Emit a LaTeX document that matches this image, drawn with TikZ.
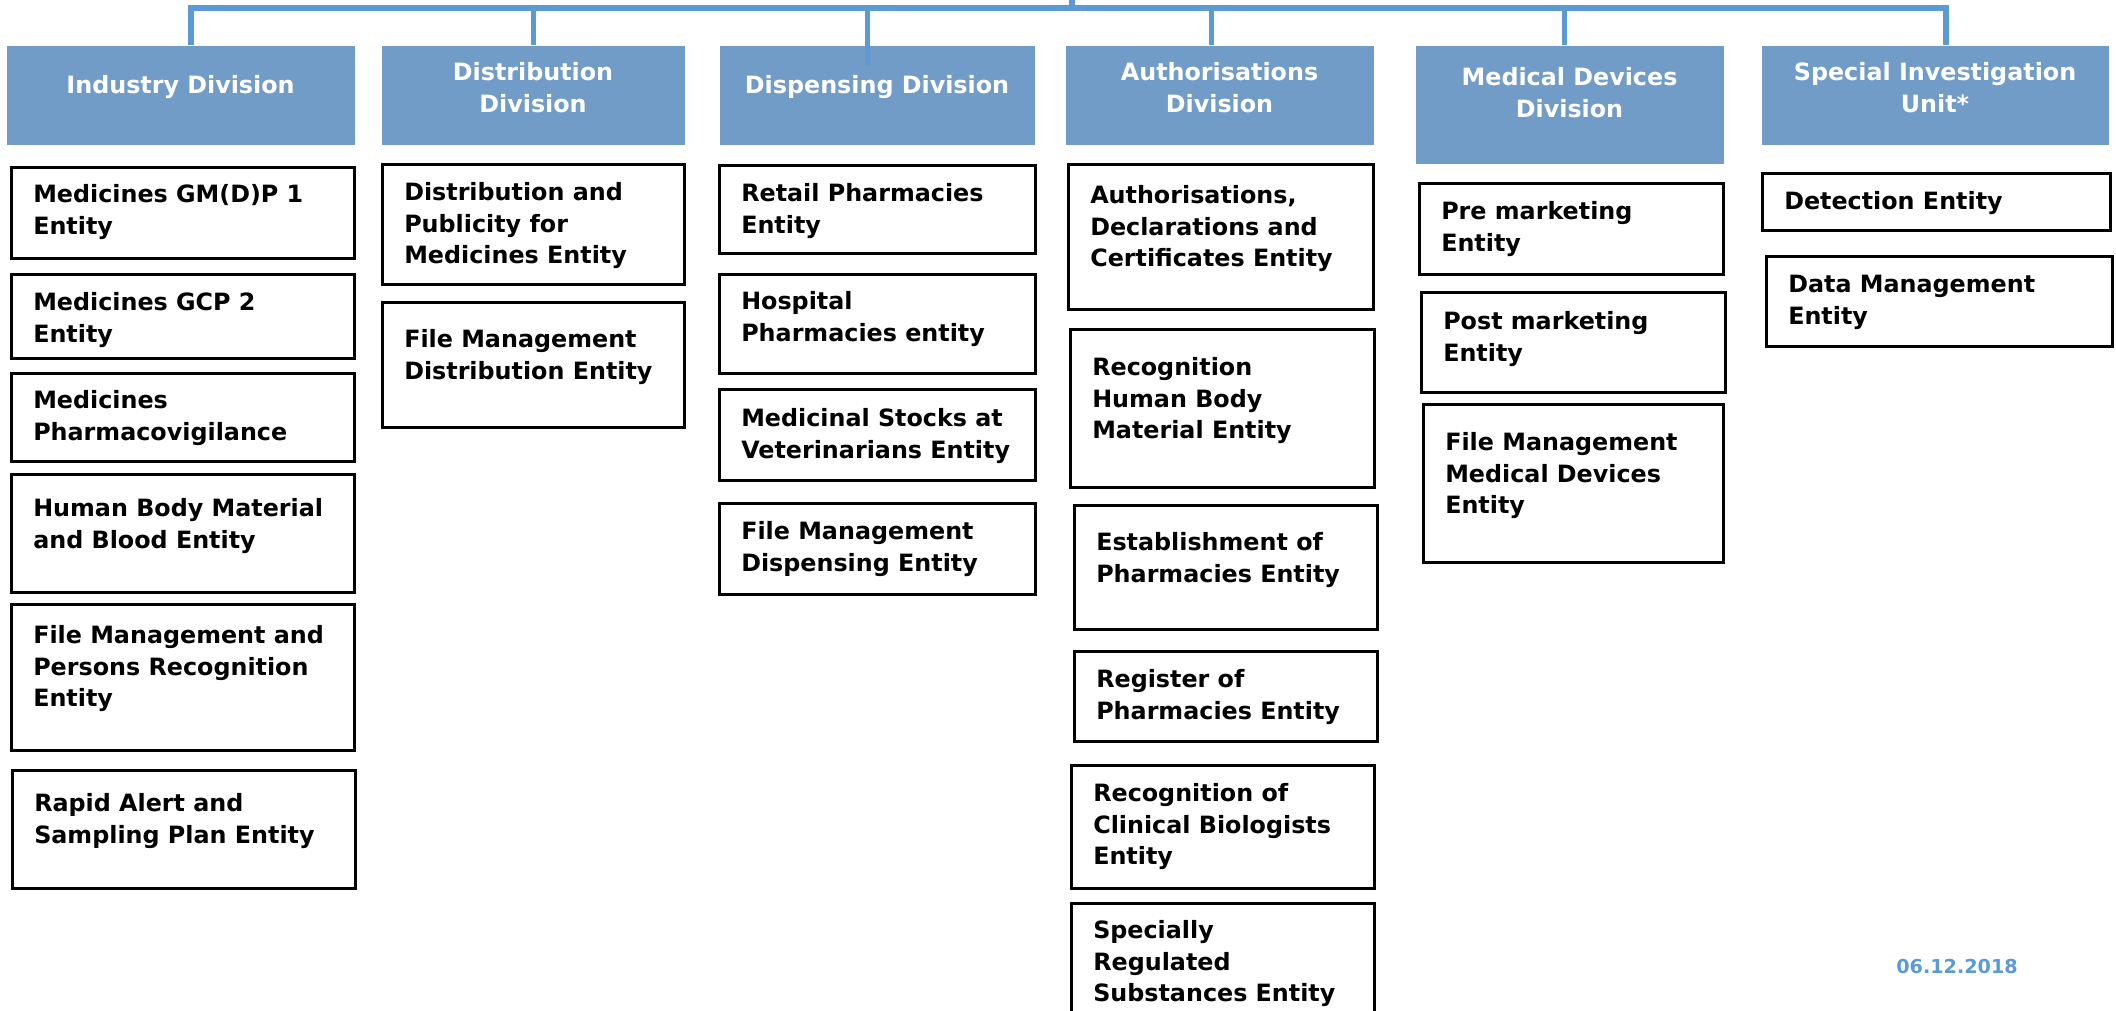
\documentclass[tikz,border=0pt]{standalone}
\usepackage{fontspec}
\setmainfont{DejaVu Sans}
\usepackage{tikz}
\usetikzlibrary{positioning,calc}

\definecolor{divblue}{RGB}{114,156,200}
\definecolor{barblue}{RGB}{91,155,213}
\definecolor{dateblue}{RGB}{91,155,213}

% one pixel of the chart
\newlength\px
\setlength\px{0.375pt}

% #1 width, #2 height, #3 space above the text, #4 text
\newcommand{\divtext}[4]{\parbox[c][#2\px][t]{#1\px}{\centering\vspace*{#3\px}#4}}
\newcommand{\enttext}[4]{\parbox[c][#2\px][t]{#1\px}{\raggedright\leftskip=22\px\relax\vspace*{#3\px}#4}}

\tikzset{
    division/.style={fill=divblue, text=white, inner sep=0pt, anchor=north west,
        font=\fontsize{8.93}{11.9}\selectfont\bfseries},
    entity/.style={draw=black, line width=0.95pt, inner sep=0pt, anchor=north west,
        font=\fontsize{8.93}{11.9}\selectfont\bfseries},
    bar/.style={draw=barblue, line width=1.9pt},
    datestamp/.style={text=dateblue, inner sep=0pt, font=\fontsize{7.2}{8.6}\selectfont\bfseries}
}

\begin{document}
\begin{tikzpicture}[x=0.375pt,y=-0.375pt]
    \clip (0,0) rectangle (2116,1011);

    % divisions
    \node[division] (divA) at (6,45) {\divtext{348}{99}{30}{Industry Division}};
    \node[division] (divB) at (381,45) {\divtext{303}{99}{17}{Distribution\\Division}};
    \node[division] (divC) at (719,45) {\divtext{315}{99}{30}{Dispensing Division}};
    \node[division] (divD) at (1065,45) {\divtext{308}{99}{17}{Authorisations\\Division}};
    \node[division] (divE) at (1415,45) {\divtext{308}{118}{22}{Medical Devices\\Division}};
    \node[division] (divF) at (1761,45) {\divtext{347}{99}{17}{Special Investigation\\Unit*}};

    % the bar on top
    \coordinate (parent) at (1072,-10);
    \coordinate (barL) at (191,8);
    \coordinate (barR) at (1946,8);
    \coordinate (stemC) at ($(divC.north)+(-10,20)$);
    \coordinate (stemD) at ($(divD.north)+(-8,0)$);
    \coordinate (stemE) at ($(divE.north)+(-5,0)$);
    \draw[bar] (barL |- divA.north) -- (barL) -- (barR) -- (barR |- divF.north);
    \draw[bar] (parent) -- (parent |- barL);
    \draw[bar] (divB.north |- barL) -- (divB.north);
    \draw[bar] (stemC |- barL) -- (stemC);
    \draw[bar] (stemD |- barL) -- (stemD);
    \draw[bar] (stemE |- barL) -- (stemE);

    % industry
    \node[entity] (entA1) at (10,166) {\enttext{343}{91}{17}{Medicines GM(D)P 1\\Entity}};
    \node[entity] (entA2) at (10,273) {\enttext{343}{84}{18}{Medicines GCP 2\\Entity}};
    \node[entity] (entA3) at (10,372) {\enttext{343}{88}{17}{Medicines\\Pharmacovigilance}};
    \node[entity] (entA4) at (10,473) {\enttext{343}{118}{24}{Human Body Material\\and Blood Entity}};
    \node[entity] (entA5) at (10,603) {\enttext{343}{146}{21}{File Management and\\Persons Recognition\\Entity}};
    \node[entity] (entA6) at (11,769) {\enttext{343}{118}{23}{Rapid Alert and\\Sampling Plan Entity}};

    % distribution
    \node[entity] (entB1) at (381,163) {\enttext{302}{120}{18}{Distribution and\\Publicity for\\Medicines Entity}};
    \node[entity] (entB2) at (381,301) {\enttext{302}{125}{27}{File Management\\Distribution Entity}};

    % dispensing
    \node[entity] (entC1) at (718,164) {\enttext{316}{88}{18}{Retail Pharmacies\\Entity}};
    \node[entity] (entC2) at (718,273) {\enttext{316}{99}{17}{Hospital\\Pharmacies entity}};
    \node[entity] (entC3) at (718,388) {\enttext{316}{91}{19}{Medicinal Stocks at\\Veterinarians Entity}};
    \node[entity] (entC4) at (718,502) {\enttext{316}{91}{18}{File Management\\Dispensing Entity}};

    % authorisations
    \node[entity] (entD1) at (1067,163) {\enttext{305}{145}{21}{Authorisations,\\Declarations and\\Certificates Entity}};
    \node[entity] (entD2) at (1069,328) {\enttext{304}{158}{28}{Recognition\\Human Body\\Material Entity}};
    \node[entity] (entD3) at (1073,504) {\enttext{303}{124}{27}{Establishment of\\Pharmacies Entity}};
    \node[entity] (entD4) at (1073,650) {\enttext{303}{90}{18}{Register of\\Pharmacies Entity}};
    \node[entity] (entD5) at (1070,764) {\enttext{303}{123}{18}{Recognition of\\Clinical Biologists\\Entity}};
    \node[entity] (entD6) at (1070,902) {\enttext{303}{128}{17}{Specially\\Regulated\\Substances Entity}};

    % medical devices
    \node[entity] (entE1) at (1418,182) {\enttext{304}{91}{18}{Pre marketing\\Entity}};
    \node[entity] (entE2) at (1420,291) {\enttext{304}{100}{19}{Post marketing\\Entity}};
    \node[entity] (entE3) at (1422,403) {\enttext{300}{158}{28}{File Management\\Medical Devices\\Entity}};

    % special investigation
    \node[entity] (entF1) at (1761,172) {\enttext{348}{57}{18}{Detection Entity}};
    \node[entity] (entF2) at (1765,255) {\enttext{346}{90}{19}{Data Management\\Entity}};

    \node[datestamp] (date) at (1957,967) {06.12.2018};
\end{tikzpicture}
\end{document}
